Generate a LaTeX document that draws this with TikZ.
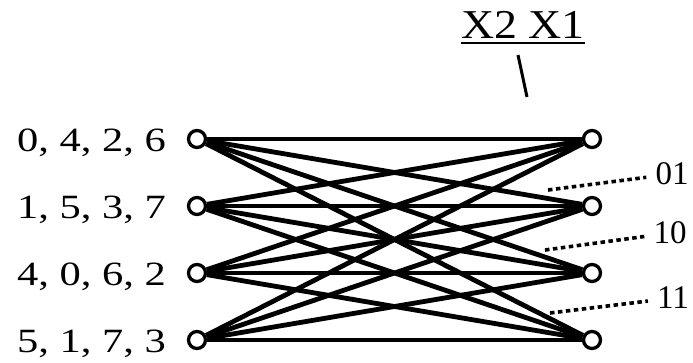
\documentclass[tikz,border=0pt]{standalone}
\usepackage{fontspec}
\setmainfont{Liberation Serif}
\newfontfamily\seqfont[FakeStretch=1.25]{Liberation Serif}
\newfontfamily\topfont[FakeStretch=1.12]{Liberation Serif}
\newcommand{\ulined}[1]{\vtop{\hbox{#1}\kern3.5pt\hrule height 2pt}}
\begin{document}
\begin{tikzpicture}[x=1pt, y=-1pt,
    state/.style={circle, draw, line width=3.3pt, minimum size=17pt, inner sep=0pt},
    branch/.style={line width=4.8pt},
    seqlabel/.style={anchor=base east, inner sep=0pt, font=\seqfont\fontsize{34}{40}\selectfont},
    bitlabel/.style={inner xsep=9pt, inner ysep=0pt, font=\fontsize{33}{38}\selectfont},
    dotline/.style={line width=3.6pt, dash pattern=on 4.5pt off 3.5pt}]
    \useasboundingbox (0,0) rectangle (693,362);
    % states and their labels
    \foreach \k/\y/\txt in {0/139/{0, 4, 2, 6}, 1/206/{1, 5, 3, 7},
                            2/273/{4, 0, 6, 2}, 3/340/{5, 1, 7, 3}} {
        \node[state] (l\k) at (197,\y) {};
        \node[state] (r\k) at (592,\y) {};
        \node[seqlabel] (s\k) at (166,\y+12) {\txt};
    }
    % branches
    \foreach \i in {0,...,3}
        \foreach \j in {0,...,3}
            \draw[branch] (l\i) -- (r\j);
    % top label
    \node[anchor=base, inner sep=0pt, font=\topfont\fontsize{41}{48}\selectfont]
        (xlab) at (523,38) {\ulined{X2\ X1}};
    \coordinate (p1) at (518,55);
    \coordinate (p2) at (527,97);
    \draw[line width=3pt] (p1) -- (p2);
    % bit labels
    \node[bitlabel] (b01) at (672,174) {01};
    \node[bitlabel] (b10) at (670,233) {10};
    \node[bitlabel] (b11) at (673,298) {11};
    \coordinate (d1) at (548,190);
    \coordinate (d2) at (545,250);
    \coordinate (d3) at (550,313);
    \draw[dotline] (d1) -- (b01);
    \draw[dotline] (d2) -- (b10);
    \draw[dotline] (d3) -- (b11);
\end{tikzpicture}
\end{document}
